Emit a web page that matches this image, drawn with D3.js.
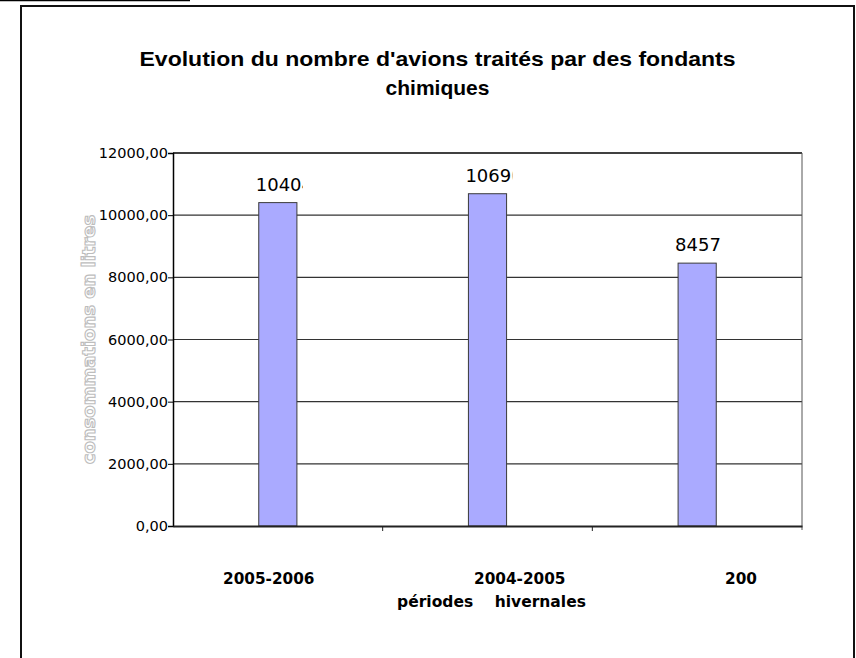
<!DOCTYPE html>
<html>
<head>
<meta charset="utf-8">
<script src="https://cdn.jsdelivr.net/npm/d3@7"></script>
<style>
  html, body { margin: 0; padding: 0; background: #fff; }
  svg { display: block; }
</style>
</head>
<body>
<div id="chart"></div>
<script>
// Winter periods and number of aircraft treated with chemical de-icers
const categories = ["2005-2006", "2004-2005", "2003-2004"];
const values = [10404, 10690, 8457];
const yTicks = [0, 2000, 4000, 6000, 8000, 10000, 12000];
const titleLines = ["Evolution du nombre d'avions traités par des fondants", "chimiques"];
const yTitle = "consommations en litres";
const xTitle = "périodes    hivernales";

const W = 856, H = 658;
const frame = { left: 21, top: 6, right: 854 };
const plot = { left: 173, right: 802, top: 153, bottom: 526 };

const svg = d3.select("#chart").append("svg")
  .attr("width", W).attr("height", H);

// page rule above the chart frame
svg.append("line")
  .attr("x1", 0).attr("x2", 190).attr("y1", 0.5).attr("y2", 0.5)
  .attr("stroke", "#000").attr("stroke-width", 1.5);

// chart frame (runs past the bottom of the page)
svg.append("path")
  .attr("d", `M${frame.left},${H + 5}V${frame.top}H${frame.right}V${H + 5}`)
  .attr("fill", "none").attr("stroke", "#111").attr("stroke-width", 2);

// title
const title = svg.append("text")
  .attr("text-anchor", "middle")
  .attr("font-family", "Liberation Sans, Arial, sans-serif")
  .attr("font-weight", "bold").attr("font-size", 21).attr("fill", "#000");
titleLines.forEach((t, i) => {
  const ts = title.append("tspan").attr("x", (frame.left + frame.right) / 2)
    .attr("y", 66 + i * 29).text(t);
  if (i === 0) ts.attr("textLength", 596).attr("lengthAdjust", "spacingAndGlyphs");
});

const x = d3.scaleBand().domain(categories).range([plot.left, plot.right]);
const y = d3.scaleLinear().domain([0, 12000]).range([plot.bottom, plot.top]);
const barW = x.bandwidth() * 0.182;

// horizontal gridlines
svg.append("g").selectAll("line").data(yTicks.filter(d => d > 0)).join("line")
  .attr("x1", plot.left).attr("x2", plot.right)
  .attr("y1", d => y(d)).attr("y2", d => y(d))
  .attr("stroke", d => d === 12000 ? "#000" : "#333")
  .attr("stroke-width", d => d === 12000 ? 1.5 : 1.2);

// right edge of the plot area
svg.append("line")
  .attr("x1", plot.right).attr("x2", plot.right)
  .attr("y1", plot.top).attr("y2", plot.bottom + 4)
  .attr("stroke", "#555").attr("stroke-width", 1);

// y axis
const yAxis = d3.axisLeft(y).tickValues(yTicks).tickSize(5).tickPadding(0)
  .tickFormat(d => d3.format(".2f")(d).replace(".", ","));
const gy = svg.append("g").attr("transform", `translate(${plot.left},0)`).call(yAxis);
gy.select(".domain").attr("stroke", "#000").attr("stroke-width", 1.5);
gy.selectAll(".tick line").attr("stroke", "#000");
gy.selectAll(".tick text")
  .attr("font-family", "DejaVu Sans, Verdana, sans-serif")
  .attr("font-size", 14.5).attr("fill", "#000");

// bars
svg.append("g").selectAll("rect").data(categories).join("rect")
  .attr("x", (d) => x(d) + (x.bandwidth() - barW) / 2)
  .attr("y", (d, i) => y(values[i]))
  .attr("width", barW)
  .attr("height", (d, i) => y(0) - y(values[i]))
  .attr("fill", "#aaaaff").attr("stroke", "#3a3a3a").attr("stroke-width", 1);

// value labels, each cut off at the width of its label box
const defs = svg.append("defs");
const labelBoxW = 47;
categories.forEach((c, i) => {
  const bx = x(c) + (x.bandwidth() - barW) / 2 - 3;
  defs.append("clipPath").attr("id", "lbl" + i)
    .append("rect").attr("x", bx).attr("y", y(values[i]) - 40)
    .attr("width", labelBoxW).attr("height", 40);
  svg.append("text")
    .attr("clip-path", `url(#lbl${i})`)
    .attr("x", bx).attr("y", y(values[i]) - 12)
    .attr("font-family", "DejaVu Sans, Verdana, sans-serif")
    .attr("font-size", 18).attr("fill", "#000")
    .text(values[i]);
});

// x axis
const xAxis = d3.axisBottom(x).tickSize(0).tickFormat("");
const gx = svg.append("g").attr("transform", `translate(0,${plot.bottom})`).call(xAxis);
gx.select(".domain").attr("stroke", "#222").attr("stroke-width", 2);
// ticks between categories
svg.append("g").selectAll("line").data(categories.slice(1)).join("line")
  .attr("x1", d => x(d)).attr("x2", d => x(d))
  .attr("y1", plot.bottom).attr("y2", plot.bottom + 5)
  .attr("stroke", "#222").attr("stroke-width", 1);

// category labels, the last one cut off by its text box
defs.append("clipPath").attr("id", "catclip")
  .append("rect").attr("x", frame.left).attr("y", 540)
  .attr("width", plot.right - 45 - frame.left).attr("height", 60);
const xl = d3.scalePoint().domain(categories).range([plot.left + 50, plot.right - 77]);
svg.append("g").attr("clip-path", "url(#catclip)")
  .selectAll("text").data(categories).join("text")
  .attr("x", d => xl(d)).attr("y", 584)
  .attr("font-family", "DejaVu Sans, Verdana, sans-serif")
  .attr("font-weight", "bold").attr("font-size", 15.3).attr("fill", "#000")
  .text(d => d);

// x axis title
svg.append("text")
  .attr("x", (plot.left + plot.right) / 2 + 4).attr("y", 607)
  .attr("text-anchor", "middle")
  .style("white-space", "pre")
  .attr("font-family", "DejaVu Sans, Verdana, sans-serif")
  .attr("font-weight", "bold").attr("font-size", 15.5).attr("fill", "#000")
  .text(xTitle);

// y axis title, outlined lettering
svg.append("text")
  .attr("transform", `translate(95,${(plot.top + plot.bottom) / 2}) rotate(-90)`)
  .attr("text-anchor", "middle")
  .attr("font-family", "DejaVu Sans, Verdana, sans-serif")
  .attr("font-weight", "bold").attr("font-size", 18)
  .attr("fill", "#fff").attr("stroke", "#bdbdbd").attr("stroke-width", 1.1)
  .text(yTitle);
</script>
</body>
</html>
